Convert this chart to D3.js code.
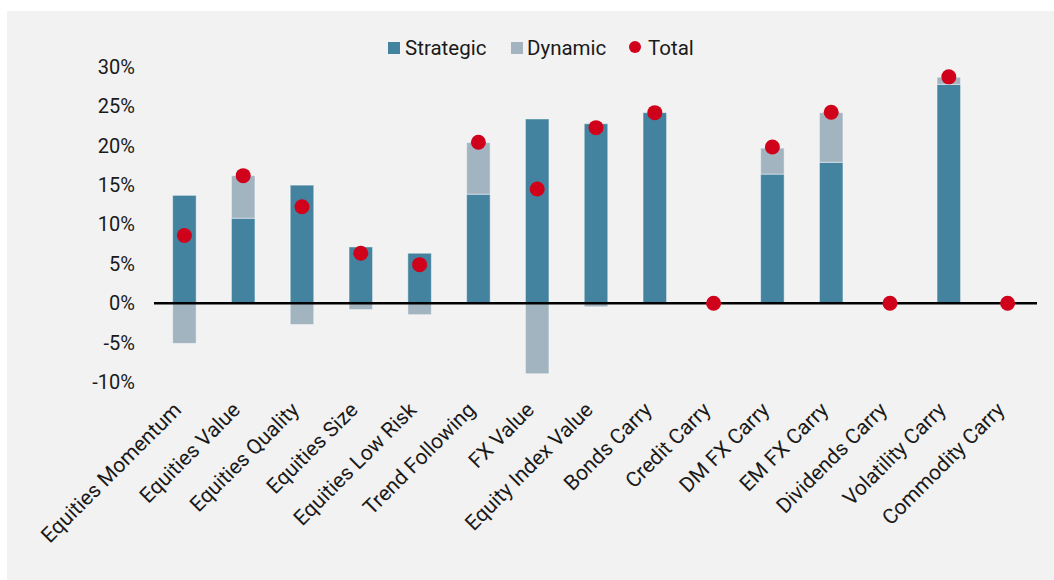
<!DOCTYPE html>
<html>
<head>
<meta charset="utf-8">
<script src="https://cdn.jsdelivr.net/npm/d3@7"></script>
<style>
  html, body { margin: 0; padding: 0; background: #fff; }
  svg { display: block; font-family: Roboto, "Noto Sans", sans-serif; }
</style>
</head>
<body>
<svg id="chart" width="1054" height="580"></svg>
<script>
// Data (percent)
const categories = [
  "Equities Momentum", "Equities Value", "Equities Quality", "Equities Size",
  "Equities Low Risk", "Trend Following", "FX Value", "Equity Index Value",
  "Bonds Carry", "Credit Carry", "DM FX Carry", "EM FX Carry",
  "Dividends Carry", "Volatility Carry", "Commodity Carry"
];
const strategic = [13.7, 10.8, 15.0, 7.15, 6.35, 13.85, 23.4, 22.8, 24.2, 0, 16.4, 17.9, 0, 27.8, 0];
const dynamic = [-5.1, 5.4, -2.7, -0.8, -1.45, 6.55, -8.95, -0.45, 0, 0, 3.3, 6.3, 0, 0.9, 0];
const total = [8.6, 16.2, 12.25, 6.35, 4.9, 20.45, 14.5, 22.3, 24.2, 0, 19.85, 24.25, 0, 28.75, 0];
const yTicks = [-10, -5, 0, 5, 10, 15, 20, 25, 30];

const colors = { strategic: "#44839f", dynamic: "#a3b4c1", total: "#d0021b", text: "#1a1a1a" };

const svg = d3.select("#chart");

// grey panel
svg.append("rect")
    .attr("x", 7).attr("y", 11)
    .attr("width", 1047).attr("height", 569)
    .attr("fill", "#f2f2f2");

const x = d3.scaleBand()
    .domain(categories)
    .range([155, 1037])
    .paddingInner(0.6)
    .paddingOuter(0.3);

const y = d3.scaleLinear()
    .domain([-10, 30])
    .range([382, 67]);

// y axis labels only
const yAxis = svg.append("g")
    .attr("transform", "translate(135,0)")
    .call(d3.axisLeft(y).tickValues(yTicks).tickSize(0).tickPadding(0).tickFormat(d => d + "%"));
yAxis.select(".domain").remove();
yAxis.selectAll("text")
    .attr("font-size", 20)
    .attr("font-family", "Roboto, sans-serif")
    .attr("fill", colors.text);

// stacked bars: strategic from 0, dynamic stacked on top if positive, below 0 if negative
const rows = categories.map((c, i) => ({ c, s: strategic[i], d: dynamic[i], t: total[i] }));
const bars = svg.append("g");

bars.selectAll("rect.strategic")
    .data(rows.filter(r => r.s !== 0))
    .join("rect")
    .attr("class", "strategic")
    .attr("x", r => x(r.c))
    .attr("width", x.bandwidth())
    .attr("y", r => y(Math.max(0, r.s)))
    .attr("height", r => Math.abs(y(r.s) - y(0)))
    .attr("fill", colors.strategic)
    .attr("stroke", "rgba(255,255,255,0.45)")
    .attr("stroke-width", 1);

bars.selectAll("rect.dynamic")
    .data(rows.filter(r => r.d !== 0))
    .join("rect")
    .attr("class", "dynamic")
    .attr("x", r => x(r.c))
    .attr("width", x.bandwidth())
    .attr("y", r => r.d > 0 ? y(r.s + r.d) : y(0))
    .attr("height", r => Math.abs(y(r.d) - y(0)))
    .attr("fill", colors.dynamic)
    .attr("stroke", "rgba(255,255,255,0.45)")
    .attr("stroke-width", 1);

// zero line
svg.append("line")
    .attr("x1", 154).attr("x2", 1037)
    .attr("y1", y(0)).attr("y2", y(0))
    .attr("stroke", "#000")
    .attr("stroke-width", 2.5);

// total dots
svg.append("g").selectAll("circle")
    .data(rows)
    .join("circle")
    .attr("cx", r => x(r.c) + x.bandwidth() / 2)
    .attr("cy", r => y(r.t))
    .attr("r", 7.5)
    .attr("fill", colors.total);

// category labels, rotated
svg.append("g").selectAll("text")
    .data(categories)
    .join("text")
    .attr("transform", c => `translate(${x(c) + x.bandwidth() / 2 - 7},${406}) rotate(-45)`)
    .attr("text-anchor", "end")
    .attr("dy", "0.35em")
    .attr("font-size", 21)
    .attr("fill", colors.text)
    .text(c => c);

// legend
const legend = svg.append("g").attr("font-size", 20.5).attr("fill", colors.text);
legend.append("rect").attr("x", 388).attr("y", 42).attr("width", 12).attr("height", 12).attr("fill", colors.strategic);
legend.append("text").attr("x", 405).attr("y", 48).attr("dy", "0.35em").text("Strategic");
legend.append("rect").attr("x", 511).attr("y", 42).attr("width", 12).attr("height", 12).attr("fill", colors.dynamic);
legend.append("text").attr("x", 527).attr("y", 48).attr("dy", "0.35em").text("Dynamic");
legend.append("circle").attr("cx", 635).attr("cy", 47).attr("r", 6).attr("fill", colors.total);
legend.append("text").attr("x", 648).attr("y", 48).attr("dy", "0.35em").text("Total");
</script>
</body>
</html>
